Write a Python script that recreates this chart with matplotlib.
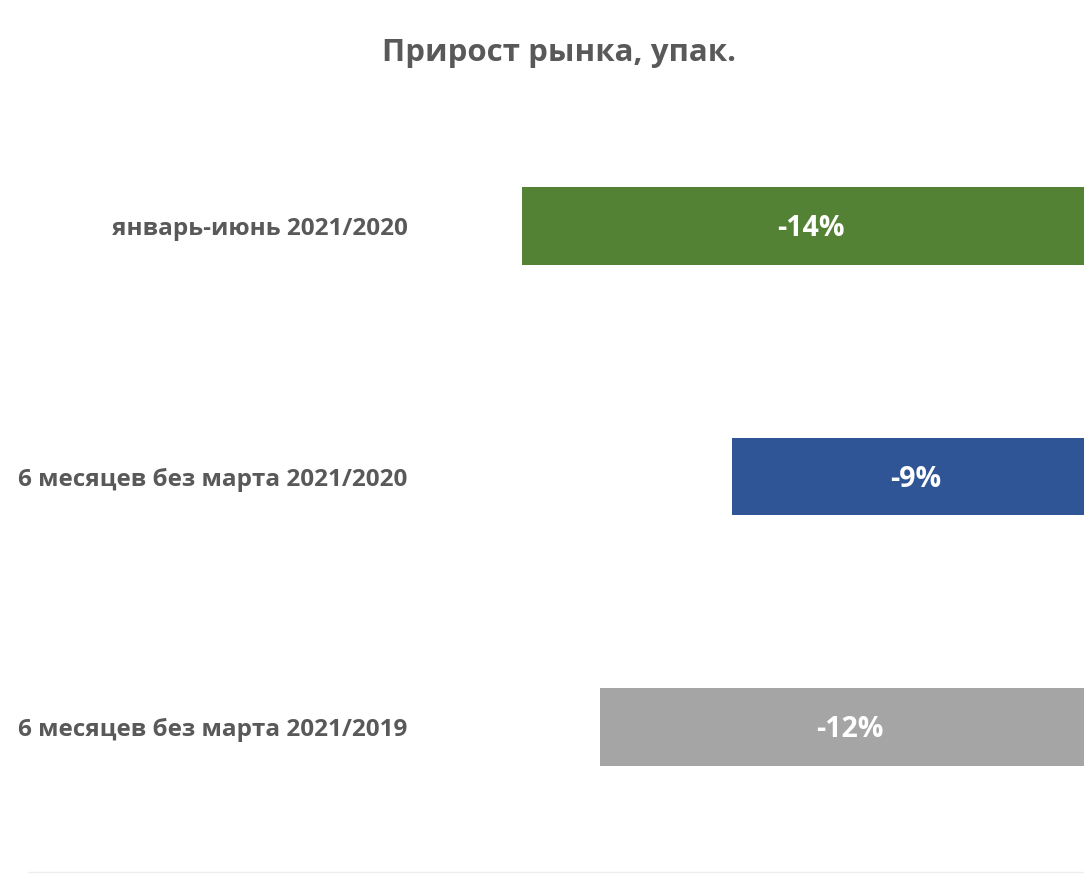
import matplotlib.pyplot as plt
import numpy as np

# data
categories = ["январь-июнь 2021/2020",
              "6 месяцев без марта 2021/2020",
              "6 месяцев без марта 2021/2019"]
growth = [-14.0, -8.9, -12.1]
colors = ["#548235", "#2F5597", "#A5A5A5"]
title = "Прирост рынка, упак."

plt.rcParams['font.family'] = ['Open Sans', 'DejaVu Sans']
txt_col = "#595959"

W, H = 1084, 876
fig = plt.figure(figsize=(W / 100, H / 100), dpi=100)
# axes right edge slightly past the figure edge, like the cropped original
left, right, top, bottom = 420, 1100, 101, 852
ax = fig.add_axes([left / W, 1 - bottom / H, (right - left) / W, (bottom - top) / H])

y = np.arange(len(categories))
ax.barh(y, growth, height=0.31, color=colors)
ax.set_xlim(-16.46, 0)
ax.set_ylim(len(categories) - 0.5, -0.5)

for yi, v in zip(y, growth):
    ax.text(v / 2, yi + 0.01, f"{v:.0f}%", ha="center", va="center",
            color="white", fontsize=20.5, fontweight="bold")

ax.set_yticks(y)
ax.set_yticklabels(categories, fontsize=17.5, fontweight="bold", color=txt_col)
ax.tick_params(axis="y", length=0, pad=9)
ax.set_xticks([])
for s in ax.spines.values():
    s.set_visible(False)

fig.text(559 / W, 1 - 53 / H, title, ha="center", va="center",
         fontsize=22.5, fontweight="bold", color=txt_col)

# faint chart-area border at the bottom
fig.add_artist(plt.Line2D([28 / W, 1], [1 - 872 / H] * 2, color="#eeeeee", lw=1))

plt.savefig("out.png", dpi=100)
